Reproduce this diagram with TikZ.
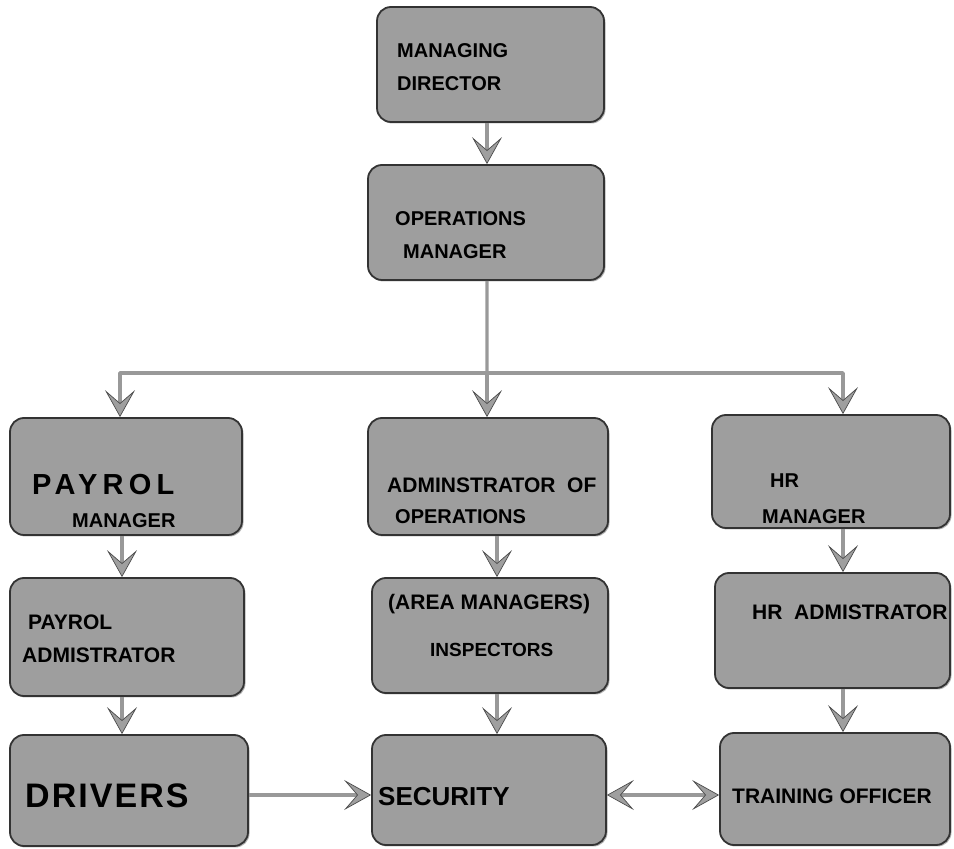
\documentclass[tikz,border=0pt]{standalone}
\usepackage{fontspec}
\setmainfont{Liberation Sans}
\usetikzlibrary{arrows.meta,shadows}
\newcommand{\setsz}[1]{\bfseries\fontsize{#1bp}{#1bp}\selectfont}
\tikzset{
  unit/.style={draw=black!80, line width=1.8bp, fill=gray!76, rounded corners=14bp, inner sep=0pt,
    drop shadow={shadow xshift=1.5bp, shadow yshift=-1.5bp, fill=black!60}},
  txt/.style={anchor=west, inner sep=0pt, font=\setsz{20}},
  flow/.style={->, draw=gray!80, line width=3.2bp},
  pipe/.style={draw=gray!80, line width=3.2bp},
}
\begin{document}
\begin{tikzpicture}[>={Stealth[length=27bp,width=30bp,inset=13bp,color=black!70,fill=gray!75,line width=0.7bp]},line join=bevel]
\useasboundingbox (0bp,0bp) rectangle (954bp,849bp);
%%
\node (director) at (490.5bp,784.5bp) [unit,minimum width=227bp,minimum height=115bp] {};
  \node (opsmgr) at (486bp,626.5bp) [unit,minimum width=236bp,minimum height=115bp] {};
  \node (payrolmgr) at (126bp,372.5bp) [unit,minimum width=232bp,minimum height=117bp] {};
  \node (payroladm) at (127bp,212bp) [unit,minimum width=234bp,minimum height=118bp] {};
  \node (drivers) at (129bp,58.5bp) [unit,minimum width=238bp,minimum height=111bp] {};
  \node (opsadm) at (488bp,372.5bp) [unit,minimum width=240bp,minimum height=117bp] {};
  \node (inspectors) at (490bp,213.5bp) [unit,minimum width=236bp,minimum height=115bp] {};
  \node (security) at (489bp,59bp) [unit,minimum width=234bp,minimum height=110bp] {};
  \node (hrmgr) at (831bp,377.5bp) [unit,minimum width=238bp,minimum height=113bp] {};
  \node (hradm) at (832.5bp,218.5bp) [unit,minimum width=235bp,minimum height=115bp] {};
  \node (training) at (835bp,60bp) [unit,minimum width=230bp,minimum height=112bp] {};
%
\node (director-a) at (397bp,798bp) [txt] {MANAGING};
  \node (director-b) at (397bp,765bp) [txt] {DIRECTOR};
  \node (opsmgr-a) at (395bp,630bp) [txt] {OPERATIONS};
  \node (opsmgr-b) at (403bp,597bp) [txt] {MANAGER};
  \node (payrolmgr-a) at (32bp,364bp) [txt,font=\setsz{29}\addfontfeatures{LetterSpace=18}] {PAYROL};
  \node (payrolmgr-b) at (72bp,328bp) [txt] {MANAGER};
  \node (payroladm-a) at (28bp,227bp) [txt,font=\setsz{21}] {PAYROL};
  \node (payroladm-b) at (22bp,194bp) [txt,font=\setsz{21}] {ADMISTRATOR};
  \node (drivers-a) at (25bp,53bp) [txt,font=\setsz{34}\addfontfeatures{LetterSpace=6}] {DRIVERS};
  \node (opsadm-a) at (387bp,364bp) [txt,font=\setsz{21}] {ADMINSTRATOR\ \ OF};
  \node (opsadm-b) at (395bp,332bp) [txt] {OPERATIONS};
  \node (inspectors-a) at (388bp,245bp) [txt,font=\setsz{21}] {(AREA MANAGERS)};
  \node (inspectors-b) at (430bp,199bp) [txt,font=\setsz{19}] {INSPECTORS};
  \node (security-a) at (378bp,52bp) [txt,font=\setsz{26}] {SECURITY};
  \node (hrmgr-a) at (770bp,368bp) [txt] {HR};
  \node (hrmgr-b) at (762bp,332bp) [txt] {MANAGER};
  \node (hradm-a) at (752bp,237bp) [txt,font=\setsz{21}] {HR\ \ ADMISTRATOR};
  \node (training-a) at (732bp,53bp) [txt,font=\setsz{21}] {TRAINING OFFICER};
%
\coordinate (bus) at (487bp,476bp);
  \draw [flow] ([xshift=-3.5bp]director.south) -- ([xshift=-3.5bp]director.south |- opsmgr.north);
  \draw [pipe] ([xshift=1bp]opsmgr.south) -- (bus);
  \draw [flow] (bus) -- (bus |- opsadm.north);
  \draw [flow] (bus) -| ([xshift=-6bp]payrolmgr.north);
  \draw [flow] (bus) -| ([xshift=12bp]hrmgr.north);
  \draw [flow] ([xshift=-4bp]payrolmgr.south) -- ([xshift=-4bp]payrolmgr.south |- payroladm.north);
  \draw [flow] ([xshift=-5bp]payroladm.south) -- ([xshift=-5bp]payroladm.south |- drivers.north);
  \draw [flow] ([xshift=9bp]opsadm.south) -- ([xshift=9bp]opsadm.south |- inspectors.north);
  \draw [flow] ([xshift=7bp]inspectors.south) -- ([xshift=7bp]inspectors.south |- security.north);
  \draw [flow] ([xshift=12bp]hrmgr.south) -- ([xshift=12bp]hrmgr.south |- hradm.north);
  \draw [flow] ([xshift=10.5bp]hradm.south) -- ([xshift=10.5bp]hradm.south |- training.north);
  \draw [flow] ([yshift=-4.5bp]drivers.east) -- ([yshift=-4.5bp]drivers.east -| security.west);
  \draw [flow,<->] ([yshift=-5bp]security.east) -- ([yshift=-5bp]security.east -| training.west);
%
\end{tikzpicture}
\end{document}
